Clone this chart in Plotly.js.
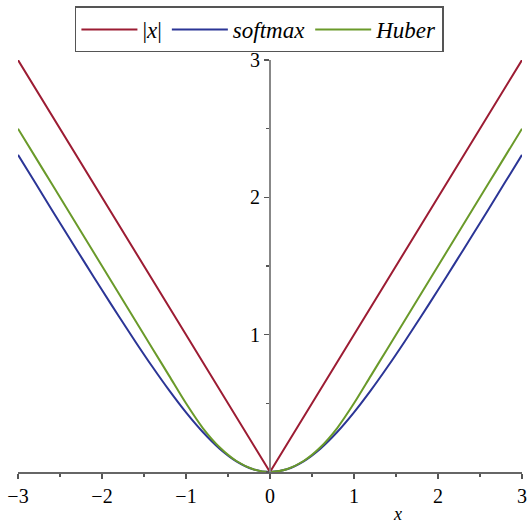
<!DOCTYPE html>
<html>
<head>
<meta charset="utf-8">
<script src="https://cdn.plot.ly/plotly-3.0.1.min.js"></script>
<style>
  html, body { margin: 0; padding: 0; background: #fff; }
  #chart { width: 528px; height: 529px; }
</style>
</head>
<body>
<div id="chart"></div>
<script>
// sample positions along x
const xs = [
  -3.0, -2.8, -2.6, -2.4, -2.2, -2.0, -1.8, -1.6, -1.4, -1.2, -1.0,
  -0.8, -0.6, -0.4, -0.2, 0.0, 0.2, 0.4, 0.6, 0.8, 1.0,
  1.2, 1.4, 1.6, 1.8, 2.0, 2.2, 2.4, 2.6, 2.8, 3.0,
];

const absVals = [
  3.0, 2.8, 2.6, 2.4, 2.2, 2.0, 1.8, 1.6, 1.4, 1.2, 1.0,
  0.8, 0.6, 0.4, 0.2, 0.0, 0.2, 0.4, 0.6, 0.8, 1.0,
  1.2, 1.4, 1.6, 1.8, 2.0, 2.2, 2.4, 2.6, 2.8, 3.0,
];

const softmaxVals = [
  2.309, 2.111, 1.912, 1.715, 1.519, 1.325, 1.134, 0.947, 0.766, 0.594, 0.434,
  0.291, 0.170, 0.078, 0.020, 0.0, 0.020, 0.078, 0.170, 0.291, 0.434,
  0.594, 0.766, 0.947, 1.134, 1.325, 1.519, 1.715, 1.912, 2.111, 2.309,
];

const huberVals = [
  2.5, 2.3, 2.1, 1.9, 1.7, 1.5, 1.3, 1.1, 0.9, 0.7, 0.5,
  0.32, 0.18, 0.08, 0.02, 0.0, 0.02, 0.08, 0.18, 0.32, 0.5,
  0.7, 0.9, 1.1, 1.3, 1.5, 1.7, 1.9, 2.1, 2.3, 2.5,
];

const xTicks = [-3, -2, -1, 0, 1, 2, 3];
const yTicks = [1, 2, 3];

const serif = "Liberation Serif, Times New Roman, serif";

const traces = [
  {
    type: "scatter",
    mode: "lines",
    name: "|<i>x</i>|",
    x: xs,
    y: absVals,
    line: { color: "#9c1c33", width: 2 },
  },
  {
    type: "scatter",
    mode: "lines",
    name: "<i>softmax</i>",
    x: xs,
    y: softmaxVals,
    line: { color: "#2b3596", width: 2, shape: "spline", smoothing: 0.8 },
  },
  {
    type: "scatter",
    mode: "lines",
    name: "<i>Huber</i>",
    x: xs,
    y: huberVals,
    line: { color: "#6a9a2a", width: 2, shape: "spline", smoothing: 0.8 },
  },
];

const layout = {
  width: 528,
  height: 529,
  margin: { l: 18, r: 6, t: 55, b: 57 },
  paper_bgcolor: "#fff",
  plot_bgcolor: "#fff",
  font: { family: serif, size: 20, color: "#000" },
  showlegend: true,
  legend: {
    orientation: "h",
    x: 0.479,
    xanchor: "center",
    y: 1.13,
    yanchor: "top",
    bordercolor: "#555",
    borderwidth: 1.5,
    bgcolor: "rgba(255,255,255,0)",
    font: { family: serif, size: 23 },
    itemwidth: 56,
    tracegroupgap: 0,
  },
  xaxis: {
    range: [-3, 3],
    tickvals: xTicks,
    ticks: "outside",
    ticklen: 5,
    tickwidth: 1.5,
    tickcolor: "#555",
    minor: { dtick: 0.5, ticks: "outside", ticklen: 3, tickcolor: "#555", tickwidth: 1.5 },
    showline: true,
    linecolor: "#666",
    linewidth: 2,
    showgrid: false,
    zeroline: false,
    fixedrange: true,
  },
  yaxis: {
    range: [0, 3],
    anchor: "free",
    position: 0.5,
    tickvals: yTicks,
    ticks: "outside",
    ticklen: 5,
    tickwidth: 1.5,
    tickcolor: "#555",
    minor: { dtick: 0.5, ticks: "outside", ticklen: 3, tickcolor: "#555", tickwidth: 1.5 },
    showline: true,
    linecolor: "#888",
    linewidth: 2,
    showgrid: false,
    zeroline: false,
    fixedrange: true,
  },
  annotations: [
    {
      text: "<i>x</i>",
      xref: "x",
      yref: "paper",
      x: 1.52,
      y: -0.103,
      xanchor: "center",
      yanchor: "middle",
      showarrow: false,
      font: { family: serif, size: 18, color: "#000" },
    },
  ],
};

Plotly.newPlot("chart", traces, layout, { displayModeBar: false, staticPlot: true });
</script>
</body>
</html>
